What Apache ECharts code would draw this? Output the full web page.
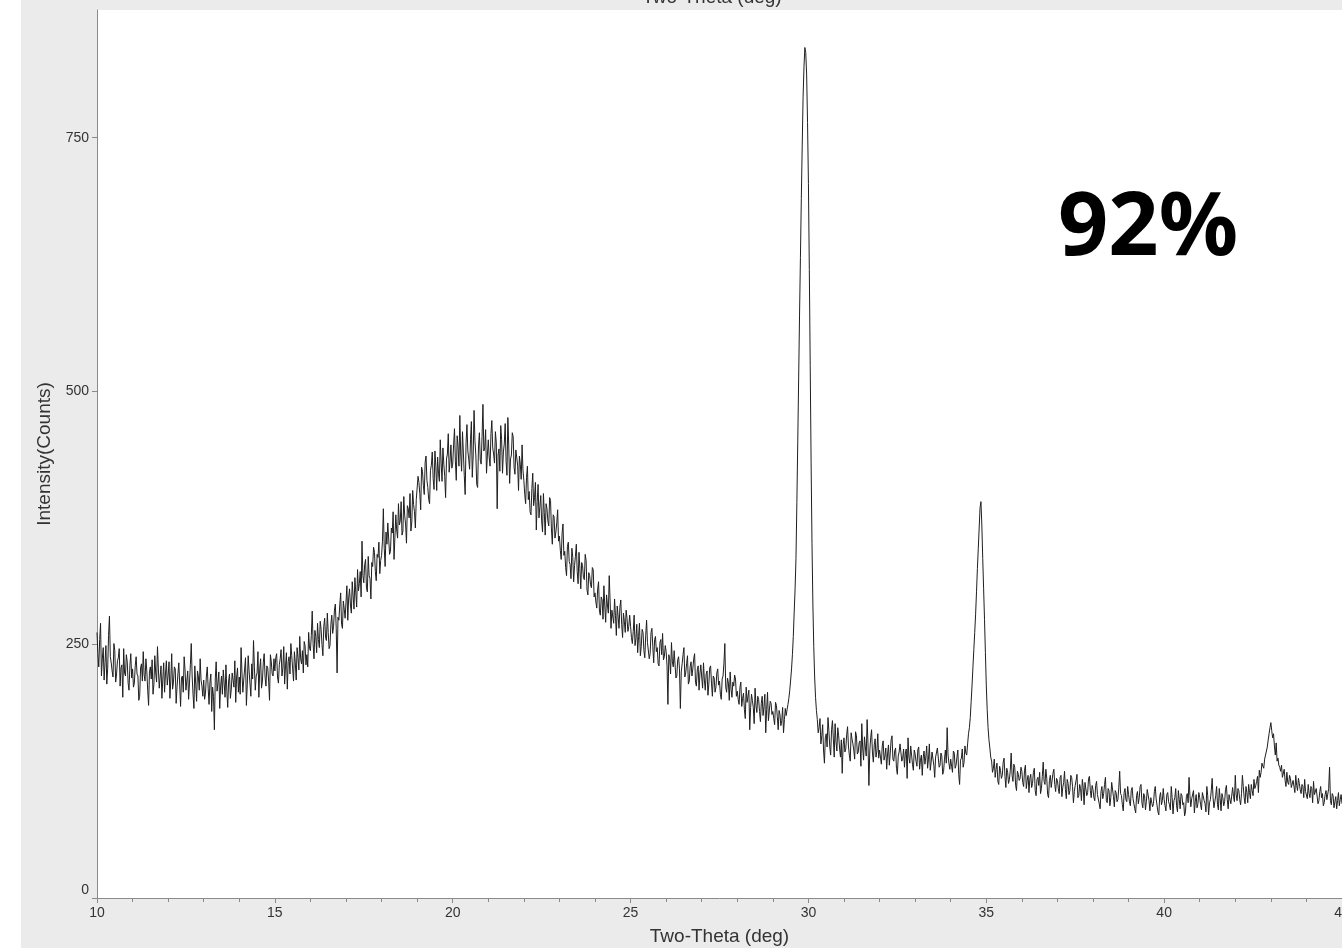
<!DOCTYPE html>
<html>
<head>
<meta charset="utf-8">
<script src="https://cdn.jsdelivr.net/npm/echarts@6/dist/echarts.min.js"></script>
<style>
html,body{margin:0;padding:0;background:#fff;overflow:hidden;width:1342px;height:948px;}
#chart{position:absolute;left:21px;top:0;width:1321px;height:948px;background:#ebebeb;}
</style>
</head>
<body>
<div id="chart"></div>
<script>
// ---- data (Two-Theta scan, step 0.025 deg, 10 -> 45 deg) ----
const twoThetaStart = 10;
const twoThetaStep = 0.025;
const xTickLabels = [10, 15, 20, 25, 30, 35, 40, 45];
const yTickValues = [0, 250, 500, 750];
const xAxisTitle = "Two-Theta (deg)";
const yAxisTitle = "Intensity(Counts)";
const annotationText = "92%";

const counts10to15 = [
  262,241, 228,255, 271,219, 236,247, 215,232, 249,211, 226,259, 278,238, 232,224, 218,251, 244,213, 221,234, 237,246, 209,227, 230,198, 246,222, 219,240, 233,212, 205,229, 241,217,
  226,208, 212,229, 238,221, 219,195, 199,227, 231,214, 243,220, 214,236, 224,205, 190,223, 228,216, 235,201, 211,239, 222,213, 248,226, 207,218, 229,197, 216,232, 203,221, 234,210,
  220,233, 197,215, 241,206, 213,228, 226,192, 208,221, 232,210, 189,217, 219,203, 238,225, 205,214, 224,196, 212,230, 251,219, 201,187, 229,211, 194,224, 218,205, 236,215, 209,199,
  215,196, 202,219, 228,207, 191,213, 221,184, 208,199, 166,216, 233,204, 212,223, 187,209, 219,201, 225,212, 198,230, 204,188, 214,221, 197,206, 222,215, 208,234, 193,218, 227,203,
  218,201, 247,222, 203,215, 226,237, 190,211, 239,224, 212,199, 231,216, 254,228, 205,219, 222,243, 198,226, 236,207, 214,232, 241,218, 209,229, 227,214, 195,240, 233,221, 219,236
];
const counts15to20 = [
  224,237, 241,218, 212,230, 236,245, 219,227, 248,211, 229,242, 206,233, 238,221, 251,239, 226,214, 243,232, 215,247, 237,225, 258,236, 231,244, 222,253, 249,230, 240,228, 262,246,
  244,259, 283,251, 236,264, 258,242, 271,255, 247,273, 265,250, 239,268, 276,257, 254,281, 262,246, 249,270, 279,261, 268,284, 290,266, 222,277, 274,289, 301,270, 266,293, 285,276,
  292,308, 274,296, 305,289, 281,312, 298,285, 316,301, 287,324, 303,310, 322,297, 352,318, 311,329, 334,306, 302,337, 318,315, 295,331, 327,346, 341,322, 313,339, 336,351, 320,333,
  338,352, 384,345, 327,361, 349,370, 371,339, 342,365, 360,381, 334,356, 378,363, 355,389, 368,372, 391,358, 362,396, 377,369, 350,387, 384,375, 399,362, 371,402, 388,381, 365,393,
  392,416, 410,399, 383,425, 421,407, 398,430, 436,412, 405,393, 389,422, 427,440, 414,403, 441,426, 402,435, 419,411, 452,429, 411,444, 428,416, 395,433, 438,458, 420,431, 447,424
];
const counts20to25 = [
  428,447, 463,431, 412,456, 445,426, 476,438, 421,460, 439,417, 398,449, 467,441, 433,423, 452,470, 415,436, 481,451, 437,408, 405,446, 459,432, 428,455, 487,441, 444,462, 419,437,
  452,435, 426,458, 471,444, 438,429, 460,449, 384,437, 443,421, 466,452, 419,440, 448,468, 431,417, 474,446, 409,433, 437,459, 455,425, 418,442, 441,427, 402,436, 428,413, 447,422,
  412,398, 389,415, 426,393, 401,381, 378,404, 419,387, 395,410, 363,391, 408,375, 386,397, 372,361, 399,380, 358,389, 384,372, 367,395, 392,364, 349,378, 376,355, 361,370, 383,352,
  357,343, 334,360, 369,338, 342,326, 318,347, 351,332, 329,315, 345,336, 312,328, 337,349, 322,310, 341,325, 305,331, 328,316, 314,339, 333,304, 299,321, 318,309, 306,326, 324,297,
  301,292, 286,305, 312,283, 279,297, 294,275, 308,288, 272,299, 289,281, 318,293, 266,284, 283,271, 295,279, 259,288, 278,266, 287,294, 270,257, 281,273, 262,284, 276,263, 268,279
];
const counts25to30 = [
  268,257, 251,263, 279,249, 256,270, 242,258, 271,239, 248,265, 262,244, 237,259, 274,252, 253,236, 241,262, 266,248, 232,255, 258,243, 247,231, 229,252, 255,240, 261,235, 238,249,
  243,229, 191,240, 236,221, 252,233, 228,244, 245,217, 219,235, 238,226, 187,223, 231,240, 247,218, 222,231, 239,211, 214,228, 233,219, 226,236, 241,213, 209,225, 229,205, 221,230,
  218,207, 232,215, 205,221, 224,200, 211,227, 229,212, 199,219, 217,203, 208,222, 226,210, 214,201, 196,216, 219,232, 251,208, 203,217, 212,195, 223,206, 198,213, 209,220, 216,199,
  204,196, 191,208, 213,189, 197,202, 186,177, 208,193, 194,205, 166,188, 201,195, 188,172, 207,190, 183,199, 196,184, 174,192, 199,180, 189,201, 163,186, 203,175, 176,194, 192,181,
  184,177, 171,193, 190,179, 166,185, 181,170, 175,188, 163,176, 187,180, 186,191, 197,205, 215,226, 240,258, 282,305, 335,390, 450,512, 575,632, 690,742, 790,820, 839,834, 812,765
];
const counts30to35 = [
  705,620, 525,430, 350,290, 248,218, 198,185, 176,163, 168,177, 152,160, 171,146, 133,158, 162,149, 178,165, 149,141, 166,175, 157,139, 172,154, 145,168, 160,148, 139,156, 123,151,
  158,144, 147,161, 169,150, 141,135, 163,157, 152,146, 137,164, 160,142, 144,153, 155,130, 172,148, 136,159, 149,140, 176,152, 111,145, 158,166, 143,134, 151,157, 139,145, 162,138,
  146,139, 132,150, 155,136, 140,148, 127,142, 151,131, 143,156, 160,137, 135,145, 148,128, 122,140, 144,152, 153,135, 138,147, 129,143, 147,118, 158,139, 133,150, 141,132, 126,146,
  142,135, 130,146, 149,127, 136,141, 121,138, 145,132, 139,150, 128,137, 152,126, 134,144, 143,131, 119,139, 138,148, 147,129, 131,143, 140,122, 125,137, 146,133, 168,141, 133,127,
  137,130, 124,145, 143,128, 131,139, 146,122, 112,136, 138,147, 129,134, 150,143, 141,152, 162,168, 178,194, 210,228, 245,262, 280,302, 325,345, 365,385, 391,368, 335,305, 275,242
];
const counts35to40 = [
  210,186, 168,156, 148,139, 135,124, 128,137, 119,127, 133,115, 112,130, 126,118, 121,134, 138,120, 109,128, 124,113, 117,126, 143,121, 115,132, 129,111, 106,125, 122,116, 118,129,
  125,114, 110,126, 131,108, 116,121, 104,118, 122,109, 113,124, 128,106, 101,117, 119,111, 124,103, 108,120, 134,115, 112,127, 118,102, 99,116, 121,109, 110,123, 127,112, 105,118,
  116,108, 103,119, 121,100, 109,114, 125,107, 98,117, 113,102, 106,121, 119,110, 94,105, 111,116, 122,99, 101,112, 108,96, 117,109, 92,114, 113,101, 104,118, 120,106, 99,111,
  107,99, 96,111, 115,102, 101,93, 88,105, 110,98, 103,112, 119,96, 94,108, 106,91, 99,114, 113,100, 90,106, 104,95, 97,109, 125,103, 101,92, 86,104, 108,97, 95,110,
  102,95, 91,106, 109,98, 97,88, 84,101, 105,93, 99,110, 112,94, 89,103, 101,87, 95,107, 108,96, 86,99, 100,90, 93,105, 110,98, 97,85, 82,100, 104,92, 96,108
];
const counts40to45 = [
  97,91, 86,102, 104,95, 92,87, 110,99, 83,96, 99,108, 91,85, 106,97, 88,103, 101,92, 94,81, 85,100, 103,94, 119,101, 90,98, 97,106, 84,95, 102,89, 93,104,
  99,92, 87,104, 105,96, 93,85, 110,101, 82,94, 97,106, 118,99, 89,95, 101,110, 92,87, 108,98, 86,103, 99,91, 95,107, 111,97, 88,102, 103,93, 94,109, 100,95,
  121,102, 96,108, 106,97, 92,103, 121,110, 99,93, 110,104, 94,112, 104,98, 112,106, 101,117, 108,111, 115,120, 104,126, 119,124, 133,130, 128,137, 141,145, 149,156, 162,168,
  173,165, 158,162, 150,141, 153,135, 138,131, 129,125, 131,119, 120,127, 116,110, 124,114, 112,121, 118,109, 108,116, 115,104, 121,111, 106,118, 113,107, 103,112, 110,99, 117,105,
  105,98, 112,103, 99,110, 108,94, 115,102, 101,108, 107,93, 96,105, 110,99, 103,91, 94,102, 106,97, 98,108, 129,96, 92,103, 101,89, 95,100, 88,96, 104,91, 97,102,
  93
];

const intensity = [].concat(counts10to15, counts15to20, counts20to25, counts25to30,
                            counts30to35, counts35to40, counts40to45);
const seriesData = intensity.map((v, i) => [Math.round((twoThetaStart + i * twoThetaStep) * 1000) / 1000, v]);

const labelFont = 'Liberation Sans, Arial, sans-serif';
const chart = echarts.init(document.getElementById('chart'), null, {renderer: 'canvas'});
chart.setOption({
  animation: false,
  backgroundColor: 'transparent',
  grid: {
    left: 76, right: 0, top: 10, bottom: 50,
    containLabel: false, outerBoundsMode: 'none',
    show: true, backgroundColor: '#ffffff', borderWidth: 0
  },
  xAxis: {
    type: 'value',
    min: xTickLabels[0], max: xTickLabels[xTickLabels.length - 1], interval: 5,
    name: xAxisTitle, nameLocation: 'middle', nameGap: 29,
    nameTextStyle: {fontFamily: labelFont, fontSize: 19, color: '#333'},
    axisLine: {show: true, onZero: false, lineStyle: {color: '#8a8a8a', width: 1}},
    axisTick: {show: true, inside: false, length: 5, lineStyle: {color: '#8a8a8a'}},
    minorTick: {show: true, splitNumber: 5, length: 4, lineStyle: {color: '#8a8a8a'}},
    splitLine: {show: false},
    minorSplitLine: {show: false},
    axisLabel: {fontFamily: labelFont, fontSize: 14, color: '#333', margin: 8}
  },
  yAxis: {
    type: 'value',
    min: 0, max: 876, interval: 250,
    name: yAxisTitle, nameLocation: 'middle', nameGap: 34, nameRotate: 90,
    nameTextStyle: {fontFamily: labelFont, fontSize: 19, color: '#333'},
    axisLine: {show: true, lineStyle: {color: '#8a8a8a', width: 1}},
    axisTick: {show: true, inside: false, length: 5, lineStyle: {color: '#8a8a8a'}, customValues: yTickValues},
    splitLine: {show: false},
    axisLabel: {
      fontFamily: labelFont, fontSize: 14, color: '#333', margin: 8, customValues: yTickValues,
      formatter: v => (v === 0 ? '{z|0}' : String(v)),
      rich: {z: {fontFamily: labelFont, fontSize: 14, color: '#333', padding: [0, 0, 16, 0]}}
    }
  },
  graphic: [
    {
      type: 'text', z: 100, x: 691, y: 7,
      style: {text: xAxisTitle, font: '19px ' + labelFont, fill: '#333',
              textAlign: 'center', textVerticalAlign: 'bottom'}
    },
    {
      type: 'text', z: 100, x: 1037, y: 230,
      style: {text: annotationText, font: 'bold 88px "Noto Sans", "Open Sans", sans-serif', fill: '#000',
              textAlign: 'left', textVerticalAlign: 'middle'}
    }
  ].concat(intensity.length === 1401 ? [] : [{
      type: 'text', x: 300, y: 300, style: {text: 'LEN ' + intensity.length, font: '30px sans-serif', fill: 'red'}
  }]),
  series: [{
    type: 'line',
    data: seriesData,
    showSymbol: false,
    symbol: 'none',
    lineStyle: {color: '#1f1f1f', width: 1},
    clip: true
  }]
});
</script>
</body>
</html>
